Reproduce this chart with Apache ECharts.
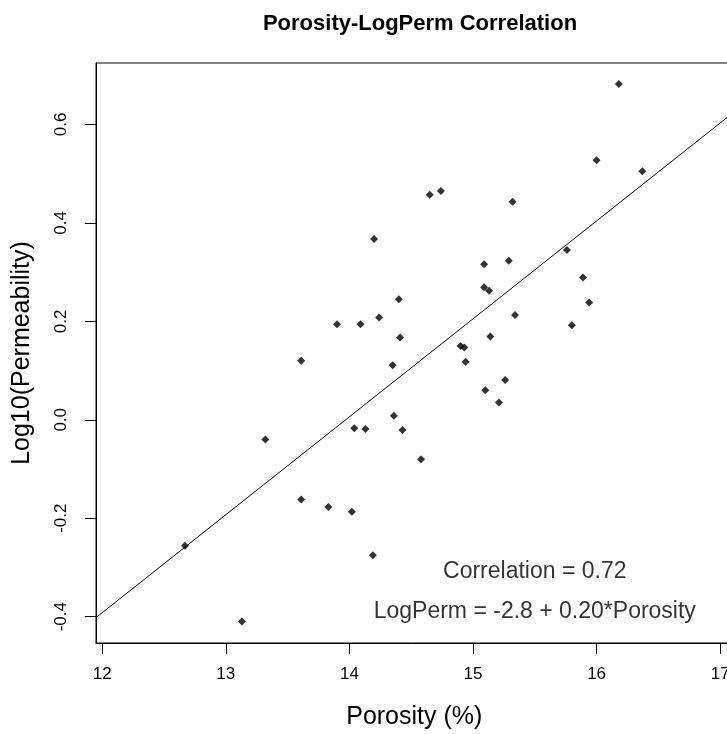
<!DOCTYPE html>
<html>
<head>
<meta charset="utf-8">
<script src="https://cdn.jsdelivr.net/npm/echarts@6/dist/echarts.min.js"></script>
<style>
html,body{margin:0;padding:0;background:#fff;}
#chart{width:727px;height:734px;}
</style>
</head>
<body>
<div id="chart"></div>
<script>
// ---- data ----
const porosity = [12.67, 13.13, 13.32, 13.61, 13.61, 13.83, 13.90, 14.02, 14.04, 14.09,
  14.13, 14.19, 14.20, 14.24, 14.35, 14.36, 14.40, 14.41, 14.43, 14.58,
  14.65, 14.74, 14.90, 14.93, 14.94, 15.09, 15.09, 15.10, 15.13, 15.14,
  15.21, 15.26, 15.29, 15.32, 15.34, 15.76, 15.80, 15.89, 15.94, 16.00,
  16.18, 16.37];
const logPerm = [-0.256, -0.410, -0.040, 0.120, -0.162, -0.177, 0.194, -0.187, -0.017, 0.194,
  -0.019, -0.275, 0.367, 0.208, 0.111, 0.008, 0.245, 0.167, -0.021, -0.080,
  0.457, 0.465, 0.150, 0.147, 0.118, 0.316, 0.269, 0.060, 0.262, 0.169,
  0.035, 0.081, 0.323, 0.443, 0.213, 0.345, 0.192, 0.289, 0.238, 0.527,
  0.682, 0.505];
const xTicks = [12, 13, 14, 15, 16, 17];
const yTicks = [-0.4, -0.2, 0.0, 0.2, 0.4, 0.6];
const fitIntercept = -2.78;
const fitSlope = 0.199;
const xRange = [11.95, 17.1];
const yRange = [-0.4535, 0.7248];
const annotations = ['Correlation = 0.72', 'LogPerm = -2.8 + 0.20*Porosity'];

// ---- chart ----
const points = porosity.map((p, i) => [p, logPerm[i]]);
const fitLine = xRange.map(x => [x, fitIntercept + fitSlope * x]);
const font = 'Liberation Sans, Arial, sans-serif';
const pxPerUnit = 123.6;

const chart = echarts.init(document.getElementById('chart'), null, {renderer: 'canvas'});
chart.setOption({
  backgroundColor: '#ffffff',
  animation: false,
  title: {
    text: 'Porosity-LogPerm Correlation',
    left: 415, top: 8, textAlign: 'center',
    textStyle: {fontFamily: font, fontWeight: 'bold', fontSize: 22, color: '#000'}
  },
  grid: {left: 96, top: 63, width: (xRange[1] - xRange[0]) * pxPerUnit, height: 580, show: true,
         outerBoundsMode: 'none', containLabel: false,
         borderColor: '#000', borderWidth: 1, backgroundColor: 'transparent'},
  xAxis: {
    type: 'value', min: xRange[0], max: xRange[1],
    name: 'Porosity (%)', nameLocation: 'middle', nameGap: 62,
    nameTextStyle: {fontFamily: font, fontSize: 25, color: '#000'},
    axisLine: {show: true, onZero: false, lineStyle: {color: '#000', width: 1}},
    axisTick: {show: true, length: 11, inside: false, customValues: xTicks,
               lineStyle: {color: '#000', width: 1}},
    axisLabel: {show: true, customValues: xTicks, margin: 23,
                fontFamily: font, fontSize: 17, color: '#000',
                formatter: v => String(Math.round(v))},
    splitLine: {show: false}
  },
  yAxis: {
    type: 'value', min: yRange[0], max: yRange[1],
    name: 'Log10(Permeability)', nameLocation: 'middle', nameGap: 61, nameRotate: 90,
    nameTextStyle: {fontFamily: font, fontSize: 25, color: '#000'},
    axisLine: {show: true, onZero: false, lineStyle: {color: '#000', width: 1}},
    axisTick: {show: true, length: 11, inside: false, customValues: yTicks,
               lineStyle: {color: '#000', width: 1}},
    axisLabel: {show: true, customValues: yTicks, rotate: 90, margin: 26,
                fontFamily: font, fontSize: 17, color: '#000',
                formatter: v => v.toFixed(1)},
    splitLine: {show: false}
  },
  series: [
    {
      type: 'line', data: fitLine, symbol: 'none', silent: true,
      lineStyle: {color: '#000', width: 1}, z: 2
    },
    {
      type: 'scatter', data: points, symbol: 'diamond', symbolSize: 8,
      itemStyle: {color: '#000'}, z: 3
    },
    {
      type: 'scatter', symbolSize: 0, silent: true, z: 4,
      data: [
        {value: [15.5, -0.308], label: {formatter: annotations[0]}},
        {value: [15.5, -0.390], label: {formatter: annotations[1]}}
      ],
      label: {show: true, position: 'inside', fontFamily: font, fontSize: 23, color: '#000'}
    }
  ]
});
</script>
</body>
</html>
